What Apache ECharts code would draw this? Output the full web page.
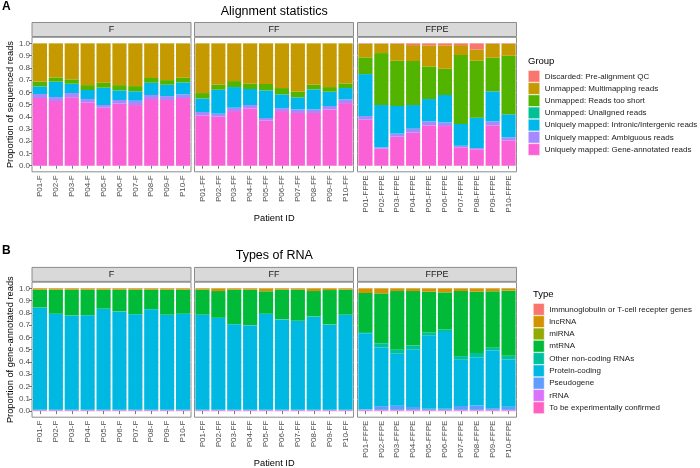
<!DOCTYPE html>
<html><head><meta charset="utf-8">
<script src="https://cdn.jsdelivr.net/npm/echarts@6/dist/echarts.min.js"></script>
<style>html,body{margin:0;padding:0;background:#fff}#c{width:700px;height:468px}</style>
</head><body><div id="c"></div>
<script>
// ---------- categories / ticks ----------
const facets = ['F', 'FF', 'FFPE'];
const catF = ['P01-F','P02-F','P03-F','P04-F','P05-F','P06-F','P07-F','P08-F','P09-F','P10-F'];
const catFF = ['P01-FF','P02-FF','P03-FF','P04-FF','P05-FF','P06-FF','P07-FF','P08-FF','P09-FF','P10-FF'];
const catFFPE = ['P01-FFPE','P02-FFPE','P03-FFPE','P04-FFPE','P05-FFPE','P06-FFPE','P07-FFPE','P08-FFPE','P09-FFPE','P10-FFPE'];
const yTicks = [0, 0.1, 0.2, 0.3, 0.4, 0.5, 0.6, 0.7, 0.8, 0.9, 1.0];

// ---------- Panel A: alignment statistics (F x10, FF x10, FFPE x10) ----------
const aGeneAnnotated = [0.553,0.529,0.559,0.515,0.474,0.507,0.496,0.545,0.537,0.553,
                        0.411,0.401,0.447,0.469,0.368,0.447,0.431,0.431,0.458,0.512,
                        0.376,0.139,0.237,0.270,0.330,0.324,0.150,0.134,0.330,0.207];
const aAmbiguous = [0.033,0.032,0.035,0.030,0.022,0.030,0.035,0.033,0.032,0.030,
                    0.028,0.024,0.027,0.027,0.022,0.024,0.029,0.029,0.030,0.030,
                    0.030,0.011,0.025,0.032,0.032,0.030,0.013,0.010,0.032,0.025];
const aIntronic = [0.063,0.126,0.076,0.074,0.142,0.079,0.077,0.100,0.093,0.098,
                   0.111,0.196,0.169,0.131,0.226,0.112,0.099,0.164,0.117,0.093,
                   0.343,0.346,0.226,0.194,0.183,0.224,0.178,0.248,0.246,0.188];
const aUnaligned = [0,0,0,0,0,0,0,0,0,0, 0,0,0,0,0,0,0,0,0,0, 0,0,0,0,0,0,0,0,0,0];
const aTooShort = [0.038,0.035,0.036,0.040,0.040,0.043,0.043,0.039,0.038,0.038,
                   0.044,0.041,0.049,0.043,0.052,0.052,0.046,0.038,0.038,0.038,
                   0.137,0.425,0.370,0.360,0.267,0.215,0.564,0.466,0.275,0.479];
const aMultimapping = [0.313,0.278,0.294,0.341,0.322,0.341,0.349,0.283,0.300,0.281,
                       0.406,0.338,0.308,0.330,0.332,0.365,0.395,0.338,0.357,0.327,
                       0.109,0.077,0.137,0.130,0.172,0.191,0.081,0.093,0.112,0.096];
const aDiscarded = [0,0,0,0,0,0,0,0,0,0, 0,0,0,0,0,0,0,0,0,0,
                    0.005,0.002,0.005,0.014,0.016,0.016,0.014,0.049,0.005,0.005];

// ---------- Panel B: types of RNA ----------
const bTEC = [0.003,0.003,0.003,0.003,0.003,0.003,0.003,0.003,0.003,0.003,
              0.003,0.003,0.003,0.003,0.003,0.003,0.003,0.003,0.003,0.003,
              0.005,0.005,0.005,0.005,0.005,0.005,0.005,0.005,0.005,0.005];
const bRRNA = [0.005,0.005,0.005,0.005,0.005,0.005,0.005,0.005,0.005,0.005,
               0.005,0.005,0.005,0.005,0.005,0.005,0.005,0.005,0.005,0.005,
               0.005,0.005,0.005,0.005,0.005,0.005,0.005,0.005,0.005,0.005];
const bPseudogene = [0.002,0.002,0.002,0.002,0.002,0.002,0.002,0.002,0.002,0.002,
                     0.002,0.002,0.002,0.002,0.002,0.002,0.002,0.002,0.002,0.002,
                     0.004,0.030,0.033,0.023,0.009,0.009,0.031,0.036,0.014,0.025];
const bProteinCoding = [0.832,0.781,0.767,0.770,0.822,0.800,0.778,0.819,0.773,0.781,
                        0.773,0.748,0.697,0.688,0.781,0.737,0.724,0.759,0.694,0.773,
                        0.616,0.479,0.424,0.467,0.598,0.625,0.377,0.392,0.471,0.386];
const bOtherNC = [0.002,0.002,0.002,0.002,0.002,0.002,0.002,0.002,0.002,0.002,
                  0.002,0.002,0.002,0.002,0.002,0.002,0.002,0.002,0.002,0.002,
                  0.014,0.033,0.033,0.035,0.022,0.022,0.030,0.035,0.021,0.030];
const bMtRNA = [0.145,0.196,0.210,0.207,0.155,0.177,0.199,0.158,0.204,0.196,
                0.204,0.218,0.280,0.289,0.183,0.240,0.253,0.207,0.280,0.204,
                0.318,0.407,0.478,0.443,0.334,0.301,0.530,0.500,0.460,0.530];
const bMiRNA = [0,0,0,0,0,0,0,0,0,0, 0,0,0,0,0,0,0,0,0,0, 0,0,0,0,0,0,0,0,0,0];
const bLncRNA = [0.011,0.011,0.011,0.011,0.011,0.011,0.011,0.011,0.011,0.011,
                 0.011,0.022,0.011,0.011,0.024,0.011,0.011,0.022,0.014,0.011,
                 0.038,0.041,0.022,0.022,0.027,0.033,0.022,0.027,0.024,0.019];
const bIg = [0,0,0,0,0,0,0,0,0,0, 0,0,0,0,0,0,0,0,0,0, 0,0,0,0,0,0,0,0,0,0];

// stacking order: bottom -> top
const groupsA = [
  {name: 'Uniquely mapped: Gene-annotated reads', color: '#FB61D7', data: aGeneAnnotated},
  {name: 'Uniquely mapped: Ambiguous reads', color: '#A58AFF', data: aAmbiguous},
  {name: 'Uniquely mapped: Intronic/Intergenic reads', color: '#00B6EB', data: aIntronic},
  {name: 'Unmapped: Unaligned reads', color: '#00C094', data: aUnaligned},
  {name: 'Unmapped: Reads too short', color: '#53B400', data: aTooShort},
  {name: 'Unmapped: Multimapping reads', color: '#C49A00', data: aMultimapping},
  {name: 'Discarded: Pre-alignment QC', color: '#F8766D', data: aDiscarded}
];
const groupsB = [
  {name: 'To be experimentally confirmed', color: '#FF61C3', data: bTEC},
  {name: 'rRNA', color: '#DB72FB', data: bRRNA},
  {name: 'Pseudogene', color: '#619CFF', data: bPseudogene},
  {name: 'Protein-coding', color: '#00B9E3', data: bProteinCoding},
  {name: 'Other non-coding RNAs', color: '#00C19F', data: bOtherNC},
  {name: 'mtRNA', color: '#00BA38', data: bMtRNA},
  {name: 'miRNA', color: '#93AA00', data: bMiRNA},
  {name: 'lncRNA', color: '#D39200', data: bLncRNA},
  {name: 'Immunoglobulin or T-cell recepter genes', color: '#F8766D', data: bIg}
];

const cats = [catF, catFF, catFFPE];
const FONT = '"Liberation Sans", Arial, Helvetica, sans-serif';
const lefts = [32, 194.5, 357.5];
const W = 159;
const grids = [], xAxes = [], yAxes = [], series = [], graphics = [];

function addPanel(groups, top, height, prefix) {
  for (let g = 0; g < 3; g++) {
    const idx = grids.length;
    grids.push({left: lefts[g], top: top, width: W, height: height, show: true,
      backgroundColor: '#fff', borderColor: '#8C8C8C', borderWidth: 1, containLabel: false});
    xAxes.push({type: 'category', gridIndex: idx, data: cats[g],
      axisLine: {show: false},
      axisTick: {show: true, alignWithLabel: true, length: 3, lineStyle: {color: '#555', width: 0.8}},
      axisLabel: {rotate: 90, interval: 0, fontSize: 8, color: '#4D4D4D', margin: 3.5, fontFamily: FONT},
      splitLine: {show: false}});
    yAxes.push({type: 'value', gridIndex: idx, min: -0.05, max: 1.05, interval: 0.05,
      axisLine: {show: false},
      axisTick: {show: g === 0, customValues: yTicks, length: 3, lineStyle: {color: '#555', width: 0.8}},
      axisLabel: {show: g === 0, customValues: yTicks, fontSize: 8, color: '#4D4D4D', margin: 2, fontFamily: FONT,
        formatter: v => v.toFixed(1)},
      splitLine: {show: true, lineStyle: {color: '#EEEEEE', width: 0.8}}});
    groups.forEach(gr => {
      series.push({type: 'bar', name: gr.name, xAxisIndex: idx, yAxisIndex: idx,
        stack: prefix + g, data: gr.data.slice(g * 10, g * 10 + 10),
        itemStyle: {color: gr.color}, barCategoryGap: '11%', silent: true});
    });
    graphics.push({type: 'rect', shape: {x: lefts[g], y: top - 14.8, width: W, height: 14},
      style: {fill: '#D9D9D9', stroke: '#8C8C8C', lineWidth: 1}});
    graphics.push({type: 'text', x: lefts[g] + W / 2, y: top - 7.8,
      style: {text: facets[g], fill: '#1A1A1A', font: '9px ' + FONT, align: 'center', verticalAlign: 'middle'}});
  }
}
const topA = 37.3, hA = 134.5, topB = 282.2, hB = 135;
addPanel(groupsA, topA, hA, 'A');
addPanel(groupsB, topB, hB, 'B');

const midX = (lefts[0] + lefts[2] + W) / 2;
function txt(t, x, y, size, opts) {
  return Object.assign({type: 'text', x: x, y: y,
    style: Object.assign({text: t, fill: '#000', font: size + 'px ' + FONT, align: 'center', verticalAlign: 'middle'}, opts && opts.style)},
    opts && opts.el);
}
graphics.push(txt('A', 2, 7, 12, {style: {align: 'left', font: 'bold 12px ' + FONT}}));
graphics.push(txt('B', 2, 251, 12, {style: {align: 'left', font: 'bold 12px ' + FONT}}));
graphics.push(txt('Alignment statistics', midX, 11.5, 12.5));
graphics.push(txt('Types of RNA', midX, 256, 12.5));
graphics.push(txt('Patient ID', midX, 218, 9.3));
graphics.push(txt('Patient ID', midX, 463, 9.3));
graphics.push(txt('Proportion of sequenced reads', 10, topA + hA / 2, 9.3, {el: {rotation: Math.PI / 2}}));
graphics.push(txt('Proportion of gene-annotated reads', 10, topB + hB / 2, 9.3, {el: {rotation: Math.PI / 2}}));
graphics.push(txt('Group', 528, 61, 9.5, {style: {align: 'left'}}));
graphics.push(txt('Type', 533, 294, 9.5, {style: {align: 'left'}}));

const legendA = groupsA.map(g => g.name).reverse();
const legendB = groupsB.map(g => g.name).reverse();

const chart = echarts.init(document.getElementById('c'), null, {renderer: 'canvas'});
chart.setOption({
  animation: false,
  textStyle: {fontFamily: FONT},
  grid: grids, xAxis: xAxes, yAxis: yAxes, series: series,
  legend: [
    {data: legendA, orient: 'vertical', left: 528, top: 70.2, itemWidth: 11.5, itemHeight: 11.7, itemGap: 0,
      icon: 'rect', selectedMode: false, itemStyle: {borderColor: '#fff', borderWidth: 0.5},
      textStyle: {fontSize: 8, color: '#1A1A1A', fontFamily: FONT}, padding: 0},
    {data: legendB, orient: 'vertical', left: 533, top: 303.2, itemWidth: 11, itemHeight: 11.8, itemGap: 0,
      icon: 'rect', selectedMode: false, itemStyle: {borderColor: '#fff', borderWidth: 0.5},
      textStyle: {fontSize: 8, color: '#1A1A1A', fontFamily: FONT}, padding: 0}
  ],
  graphic: graphics
});
</script></body></html>
